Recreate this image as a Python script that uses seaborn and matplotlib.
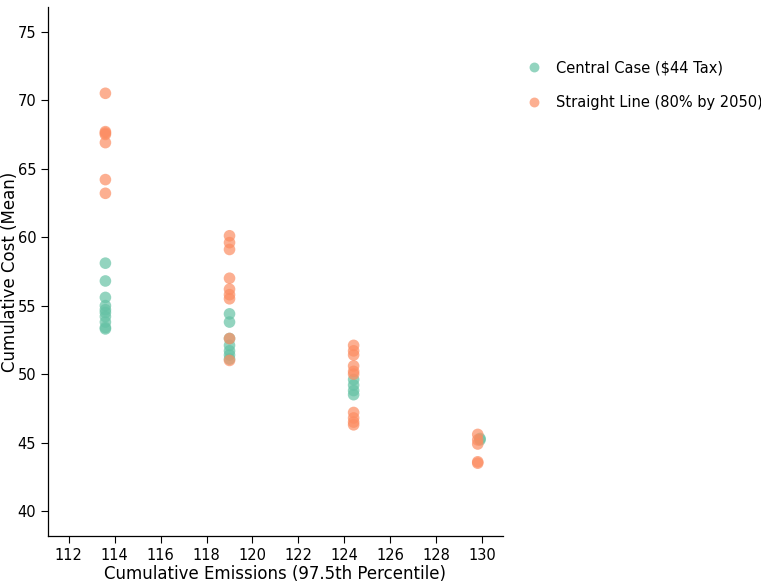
import matplotlib
matplotlib.use("Agg")
import matplotlib.pyplot as plt
import seaborn as sns
import pandas as pd

# Scenario results: cumulative emissions vs. mean cumulative cost
central_x = [113.6] * 10 + [119.0] * 7 + [124.4] * 4 + [129.9] * 2
central_y = [58.1, 56.8, 55.6, 55.0, 54.7, 54.5, 54.2, 53.8, 53.3, 53.4,
             54.4, 53.8, 52.6, 52.1, 51.7, 51.4, 51.1,
             49.6, 49.2, 48.8, 48.5,
             45.3, 45.2]

straight_x = [113.6] * 7 + [119.0] * 9 + [124.4] * 10 + [129.8] * 5
straight_y = [70.5, 67.7, 67.6, 67.5, 66.9, 64.2, 63.2,
              60.1, 59.6, 59.1, 57.0, 56.2, 55.8, 55.5, 52.6, 51.0,
              52.1, 51.7, 51.4, 50.6, 50.2, 50.0, 47.2, 46.8, 46.5, 46.3,
              45.6, 45.2, 44.9, 43.6, 43.5]

series_names = ["Central Case ($44 Tax)", "Straight Line (80% by 2050)"]

df = pd.DataFrame({
    "emissions": central_x + straight_x,
    "cost": central_y + straight_y,
    "scenario": [series_names[0]] * len(central_x) + [series_names[1]] * len(straight_x),
})

sns.set_theme(style="ticks")
plt.rcParams["font.family"] = ["DejaVu Sans"]
plt.rcParams["text.color"] = "black"
plt.rcParams["axes.labelcolor"] = "black"

fig = plt.figure(figsize=(7.61, 5.83), dpi=100)
ax = fig.add_axes([0.063, 0.081, 0.598, 0.907])

palette = {series_names[0]: "#66c2a5", series_names[1]: "#fc8d62"}
sns.scatterplot(data=df, x="emissions", y="cost", hue="scenario",
                palette=palette, s=70, alpha=0.7, edgecolor="none",
                ax=ax, legend=True)

ax.set_xlim(111.1, 130.9)
ax.set_ylim(38.2, 76.8)
ax.set_xticks(range(112, 131, 2))
ax.set_yticks(range(40, 76, 5))
ax.tick_params(axis="both", labelsize=10.5, length=5, width=0.8, colors="black")
ax.set_xlabel("Cumulative Emissions (97.5th Percentile)", fontsize=12, labelpad=2)
ax.set_ylabel("Cumulative Cost (Mean)", fontsize=12)
ax.yaxis.set_label_coords(-0.064, 0.5)
sns.despine(ax=ax)
for side in ("left", "bottom"):
    ax.spines[side].set_color("black")
    ax.spines[side].set_linewidth(0.9)

handles, labels = ax.get_legend_handles_labels()
ax.legend(handles, labels, loc="upper left", bbox_to_anchor=(1.024, 0.91),
          frameon=False, prop={"family": "DejaVu Sans", "size": 10.5},
          markerscale=0.85, handletextpad=0.45, labelspacing=1.35,
          borderaxespad=0.0)

fig.savefig("out.png", dpi=100)
